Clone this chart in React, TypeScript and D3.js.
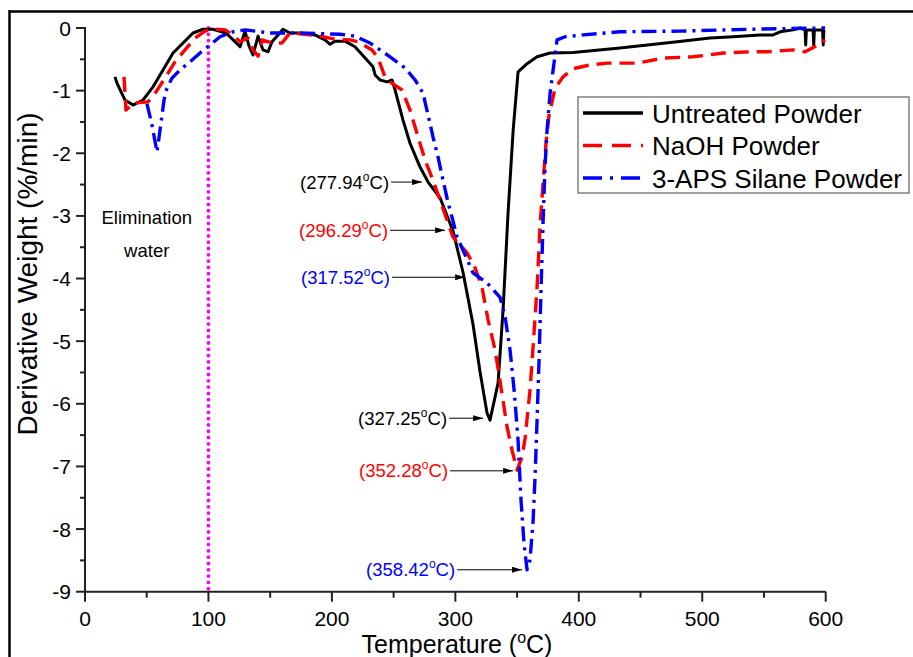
import React from 'react';
import * as d3 from 'd3';

// ---------- data ----------
const untreatedT = [24.3,25.9,32.4,38.9,47,55.1,63.2,71.3,79.4,87.5,95.6,103.7,114.2,120,125.6,129.6,132.9,136.1,140.2,144.2,148.3,151.5,156.4,160.4,166.1,174.2,186.3,194.4,198.5,202.5,210.6,218.7,226.9,233.3,235,239,244.7,248.7,251.2,257.6,263.3,271.4,277.9,287.6,298.1,306.2,314.3,320,325.7,328.1,334.6,338.7,342.7,346.8,350.8,358.1,366.2,376.7,395.4,433.4,479.6,506.4,525,546.9,557.4,563.1,573.6,579.3,583.3,583.8,584.3,589.8,590.3,590.8,597.5,598,598.5];
const untreatedV = [-0.78,-0.88,-1.15,-1.23,-1.15,-0.94,-0.67,-0.40,-0.24,-0.08,-0.02,-0.02,-0.08,-0.19,-0.30,-0.05,-0.29,-0.43,-0.13,-0.35,-0.38,-0.22,-0.11,-0.02,-0.08,-0.08,-0.11,-0.19,-0.26,-0.21,-0.21,-0.30,-0.48,-0.62,-0.75,-0.83,-0.86,-0.83,-0.99,-1.47,-1.84,-2.22,-2.46,-2.71,-3.24,-3.90,-4.73,-5.49,-6.15,-6.26,-5.67,-4.49,-2.95,-1.64,-0.70,-0.57,-0.46,-0.40,-0.39,-0.32,-0.22,-0.16,-0.14,-0.11,-0.11,-0.06,-0.03,0,-0.03,-0.27,-0.03,-0.03,-0.27,-0.03,-0.03,-0.27,-0.03];

const naohT = [31.6,33.2,38.9,51,57.5,64.8,72.9,81,89.1,97.2,105.3,113.4,119,125.6,132,136.1,140.2,143.4,148.3,154,159.6,166,178,190.4,202.5,214.7,221.2,232.5,237.4,243,247.1,256.8,263.3,269.8,275.5,281.9,287.6,293.3,298.1,309.5,316,321.6,326.5,332.2,337.8,341.9,345.9,350,354,356.5,360.5,363,366.2,368.7,371.1,373.5,375.9,380.8,387.3,395.4,409.1,422.9,447.2,468.3,492.6,516.9,538.8,552.5,573.6,583.3,593.9,599.5];
const naohV = [-0.78,-1.31,-1.20,-1.18,-1.02,-0.80,-0.54,-0.35,-0.16,-0.05,-0.02,-0.03,-0.10,-0.22,-0.16,-0.35,-0.45,-0.19,-0.22,-0.24,-0.24,-0.08,-0.10,-0.13,-0.18,-0.19,-0.22,-0.35,-0.48,-0.78,-0.86,-0.99,-1.31,-1.74,-2.11,-2.43,-2.75,-3.07,-3.34,-3.59,-3.83,-4.14,-4.66,-5.14,-5.84,-6.37,-6.74,-7.06,-6.85,-6.55,-5.78,-5.08,-4.14,-3.13,-2.47,-1.82,-1.39,-0.96,-0.78,-0.65,-0.59,-0.56,-0.56,-0.48,-0.46,-0.40,-0.38,-0.38,-0.35,-0.38,-0.27,-0.19];

const silaneT = [50.2,54.3,58.3,60.8,64,66.4,70.5,77,85,93.2,101.3,109.4,119.9,129.6,150,174,206.6,218.7,230.9,247.1,259.3,267.4,273.8,277.9,281.9,286,290,294.1,297.3,301.4,307.9,314.3,325.7,336.2,340.3,344.3,347.6,350.8,353.2,355.7,358.1,360.5,363,364.6,366.2,367.8,369.4,371.1,372.7,374.3,376.7,379.2,382.4,388.9,403.5,433.4,482,538.8,599.5];
const silaneV = [-1.21,-1.55,-1.98,-1.63,-1.15,-0.96,-0.80,-0.67,-0.54,-0.40,-0.27,-0.14,-0.06,-0.03,-0.08,-0.08,-0.10,-0.13,-0.24,-0.46,-0.64,-0.83,-1.04,-1.39,-1.74,-2.06,-2.43,-2.79,-3.02,-3.34,-3.62,-3.91,-4.07,-4.30,-4.61,-5.14,-5.78,-6.58,-7.54,-8.25,-8.65,-8.49,-7.86,-7.15,-6.26,-5.30,-4.18,-3.07,-2.19,-1.63,-1.05,-0.67,-0.19,-0.14,-0.11,-0.06,-0.05,-0.02,0];

const xTicks = [0, 100, 200, 300, 400, 500, 600];
const xMinor = [50, 150, 250, 350, 450, 550];
const yTicks = [0, -1, -2, -3, -4, -5, -6, -7, -8, -9];
const yMinor = [-0.5, -1.5, -2.5, -3.5, -4.5, -5.5, -6.5, -7.5, -8.5];

const seriesNames = ['Untreated Powder', 'NaOH Powder', '3-APS Silane Powder'];
const seriesColors = ['#000000', '#ff0000', '#0000ff'];
const seriesDash = ['none', '15 8', '15 6 3 6'];

// annotations: label temperature, text end (T), text/arrow v, arrow tip (T, v)
const annLabels = ['277.94', '296.29', '317.52', '327.25', '352.28', '358.42'];
const annColors = ['#000000', '#ff0000', '#0000ff', '#000000', '#ff0000', '#0000ff'];
const annTextEndT = [246.3, 245.5, 247.1, 293.3, 294.1, 299.8];
const annV = [-2.46, -3.23, -3.98, -6.23, -7.07, -8.65];
const annTipT = [273.0, 291.7, 307.9, 322.5, 346.8, 354.0];

const waterLineT = 100;
const noteLines = ['Elimination', 'water'];
const noteT = 50;
const noteV = [-3.02, -3.55];

const FONT = '"Liberation Sans", Arial, sans-serif';

export default function App() {
  const x = d3.scaleLinear().domain([0, 600]).range([85, 825.7]);
  const y = d3.scaleLinear().domain([0, -9]).range([28, 591.7]);
  const line = d3.line<[number, number]>().x(d => x(d[0])).y(d => y(d[1]));
  const series = [
    untreatedT.map((t, i) => [t, untreatedV[i]] as [number, number]),
    naohT.map((t, i) => [t, naohV[i]] as [number, number]),
    silaneT.map((t, i) => [t, silaneV[i]] as [number, number]),
  ];
  const x0 = x(0), y0 = y(-9);
  const axisColor = '#222';

  return (
    <svg width={913} height={657} style={{ position: 'absolute', left: 0, top: 0, background: '#fff' }} fontFamily={FONT}>
      <defs>
        <marker id="arr" viewBox="0 0 10 6" refX="10" refY="3" markerWidth="10" markerHeight="6" markerUnits="userSpaceOnUse" orient="auto">
          <path d="M0,0 L10,3 L0,6 Z" fill="#000" />
        </marker>
      </defs>
      {/* outer frame */}
      <line x1={9} y1={11.5} x2={913} y2={11.5} stroke="#000" strokeWidth={2.5} />
      <line x1={9.5} y1={10} x2={9.5} y2={657} stroke="#000" strokeWidth={2.5} />

      {/* magenta dotted line */}
      <line x1={x(waterLineT)} x2={x(waterLineT)} y1={y(0)} y2={y(-9)} stroke="#ff00ff" strokeWidth={3.8} strokeDasharray="0 6.3" strokeLinecap="round" />

      {/* series */}
      {series.map((s, i) => (
        <path key={i} d={line(s) || ''} fill="none" stroke={seriesColors[i]} strokeWidth={i === 0 ? 3 : 3.4}
          strokeDasharray={seriesDash[i]} strokeLinejoin="round" />
      ))}

      {/* axes */}
      <line x1={x0} x2={x(600)} y1={y0} y2={y0} stroke={axisColor} strokeWidth={2} />
      <line x1={x0} x2={x0} y1={y(0) - 1} y2={y0} stroke={axisColor} strokeWidth={2} />
      {xTicks.map(t => (
        <g key={'xt' + t}>
          <line x1={x(t)} x2={x(t)} y1={y0} y2={y0 + 10} stroke={axisColor} strokeWidth={2} />
          <text x={x(t)} y={626} textAnchor="middle" fontSize={21} fill="#000">{t}</text>
        </g>
      ))}
      {xMinor.map(t => (
        <line key={'xm' + t} x1={x(t)} x2={x(t)} y1={y0} y2={y0 + 6} stroke={axisColor} strokeWidth={2} />
      ))}
      {yTicks.map(t => (
        <g key={'yt' + t}>
          <line x1={x0 - 9} x2={x0} y1={y(t)} y2={y(t)} stroke={axisColor} strokeWidth={2} />
          <text x={71} y={y(t) + 7.5} textAnchor="end" fontSize={21} fill="#000">{t === 0 ? '0' : '-' + Math.abs(t)}</text>
        </g>
      ))}
      {yMinor.map(t => (
        <line key={'ym' + t} x1={x0 - 5} x2={x0} y1={y(t)} y2={y(t)} stroke={axisColor} strokeWidth={2} />
      ))}

      {/* axis titles */}
      <text transform={`translate(37,274) rotate(-90)`} textAnchor="middle" fontSize={28} fill="#000">Derivative Weight (%/min)</text>
      <text x={457} y={653} textAnchor="middle" fontSize={25} fill="#000">
        Temperature (<tspan fontSize={16} dy={-10}>o</tspan><tspan dy={10}>C)</tspan>
      </text>

      {/* note */}
      {noteLines.map((n, i) => (
        <text key={n} x={x(noteT)} y={y(noteV[i]) + 7} textAnchor="middle" fontSize={18.5} fill="#000">{n}</text>
      ))}

      {/* annotations */}
      {annLabels.map((lab, i) => {
        const ex = x(annTextEndT[i]);
        const ay = y(annV[i]);
        return (
          <g key={lab}>
            <text x={ex} y={ay + 6.5} textAnchor="end" fontSize={18.5} fill={annColors[i]}>
              ({lab}<tspan fontSize={12} dy={-8}>o</tspan><tspan dy={8}>C)</tspan>
            </text>
            <line x1={ex + 2} x2={x(annTipT[i])} y1={ay} y2={ay} stroke="#000" strokeWidth={1} markerEnd="url(#arr)" />
          </g>
        );
      })}

      {/* legend */}
      <rect x={578} y={97} width={331} height={96} fill="#fff" stroke="#808080" strokeWidth={1.5} />
      {seriesNames.map((n, i) => (
        <g key={n}>
          <line x1={583} x2={643} y1={113 + i * 32.5} y2={113 + i * 32.5} stroke={seriesColors[i]} strokeWidth={3.4}
            strokeDasharray={i === 1 ? '19 10' : i === 2 ? '19 8 3 8' : 'none'} />
          <text x={652} y={113 + i * 32.5 + 9.5} fontSize={26} fill="#000">{n}</text>
        </g>
      ))}
    </svg>
  );
}
